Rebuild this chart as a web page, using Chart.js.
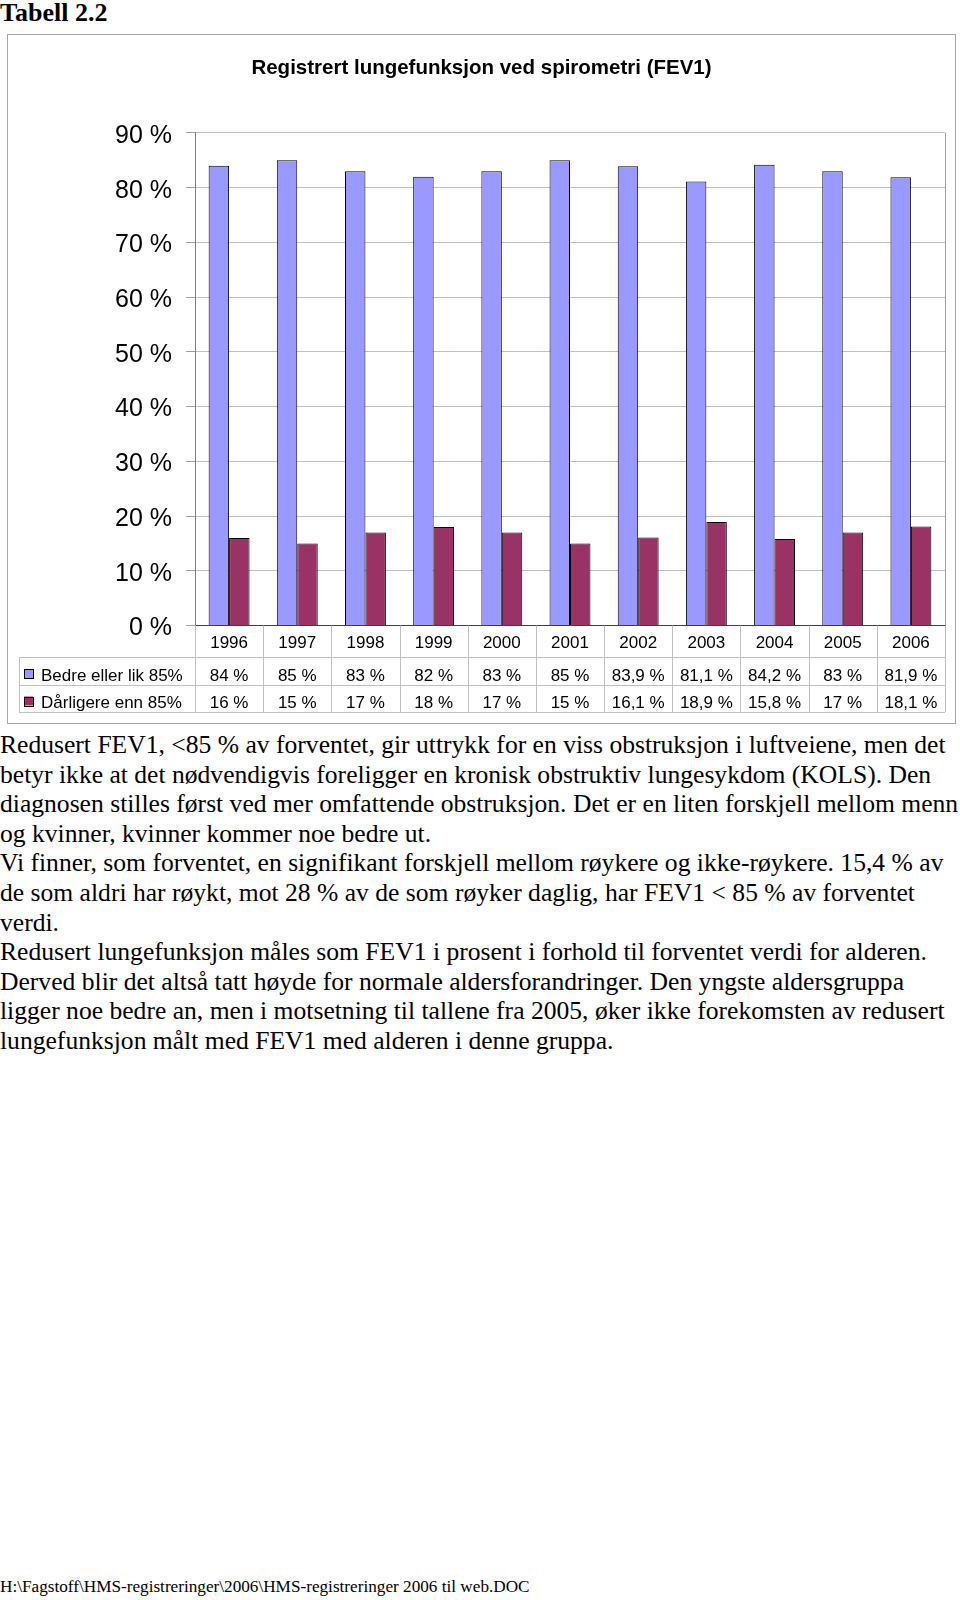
<!DOCTYPE html>
<html lang="no">
<head>
<meta charset="UTF-8">
<title>Tabell 2.2</title>
<script src="https://cdn.jsdelivr.net/npm/chart.js"></script>
<style>
  html, body { margin: 0; padding: 0; background: #fff; }
  body { position: relative; width: 960px; height: 1600px; overflow: hidden; color: #000; }
  #tabell { position: absolute; left: 0; top: 0; font: bold 26px/25px "Liberation Serif", "Times New Roman", serif; }
  #frame { position: absolute; left: 7px; top: 34px; width: 947px; height: 688px; border: 1px solid #a6a6a6; }
  #chart { display: block; }
  #text { position: absolute; left: 0; top: 730px; font: 25.6px/29.6px "Liberation Serif", "Times New Roman", serif; }
  #text div { white-space: nowrap; }
  #footer { position: absolute; left: 0; top: 1577px; font: 17.2px/20px "Liberation Serif", "Times New Roman", serif; white-space: nowrap; }
</style>
</head>
<body>
<div id="tabell">Tabell 2.2</div>
<div id="frame"><canvas id="chart" width="947" height="688"></canvas></div>
<div id="text">
  <div>Redusert FEV1, &lt;85 % av forventet, gir uttrykk for en viss obstruksjon i luftveiene, men det</div>
  <div>betyr ikke at det nødvendigvis foreligger en kronisk obstruktiv lungesykdom (KOLS). Den</div>
  <div>diagnosen stilles først ved mer omfattende obstruksjon. Det er en liten forskjell mellom menn</div>
  <div>og kvinner, kvinner kommer noe bedre ut.</div>
  <div>Vi finner, som forventet, en signifikant forskjell mellom røykere og ikke-røykere. 15,4 % av</div>
  <div>de som aldri har røykt, mot 28 % av de som røyker daglig, har FEV1 &lt; 85 % av forventet</div>
  <div>verdi.</div>
  <div>Redusert lungefunksjon måles som FEV1 i prosent i forhold til forventet verdi for alderen.</div>
  <div>Derved blir det altså tatt høyde for normale aldersforandringer. Den yngste aldersgruppa</div>
  <div>ligger noe bedre an, men i motsetning til tallene fra 2005, øker ikke forekomsten av redusert</div>
  <div>lungefunksjon målt med FEV1 med alderen i denne gruppa.</div>
</div>
<div id="footer">H:\Fagstoff\HMS-registreringer\2006\HMS-registreringer 2006 til web.DOC</div>
<script>
const years = ['1996', '1997', '1998', '1999', '2000', '2001', '2002', '2003', '2004', '2005', '2006'];
const bedre = [84, 85, 83, 82, 83, 85, 83.9, 81.1, 84.2, 83, 81.9];
const darligere = [16, 15, 17, 18, 17, 15, 16.1, 18.9, 15.8, 17, 18.1];
const yTicks = [0, 10, 20, 30, 40, 50, 60, 70, 80, 90];

const fontSans = '"Liberation Sans", Arial, sans-serif';
const lineGray = '#c0c0c0';

function pct(v) {
  const s = Number.isInteger(v) ? String(v) : v.toFixed(1).replace('.', ',');
  return s + ' %';
}

// data table under the x axis (legend keys + values), like the Excel chart
const dataTable = {
  id: 'dataTable',
  afterDraw(chart) {
    const { ctx, chartArea } = chart;
    const x = chart.scales.x;
    const step = x.getPixelForValue(1) - x.getPixelForValue(0);
    const top = chartArea.bottom;
    const row1 = top + 31.5, row2 = row1 + 27.5, end = row2 + 27.5;
    const tableLeft = 11;

    ctx.save();
    ctx.strokeStyle = lineGray;
    ctx.lineWidth = 1;
    ctx.beginPath();
    [row1, row2, end].forEach(y => {
      ctx.moveTo(tableLeft, Math.round(y) + 0.5);
      ctx.lineTo(chartArea.right, Math.round(y) + 0.5);
    });
    ctx.moveTo(tableLeft + 0.5, row1);
    ctx.lineTo(tableLeft + 0.5, end);
    for (let i = 0; i <= years.length; i++) {
      const bx = Math.round(x.getPixelForValue(i) - step / 2) + 0.5;
      ctx.moveTo(bx, top);
      ctx.lineTo(bx, end);
    }
    ctx.stroke();

    // right border of plot area
    ctx.strokeStyle = '#a0a0a0';
    ctx.beginPath();
    ctx.moveTo(Math.round(chartArea.right) + 0.5, chartArea.top);
    ctx.lineTo(Math.round(chartArea.right) + 0.5, chartArea.bottom);
    ctx.stroke();

    ctx.font = '17px ' + fontSans;
    ctx.textBaseline = 'alphabetic';
    [row1, row2].forEach((rowTop, di) => {
      const ds = chart.data.datasets[di];
      ctx.fillStyle = ds.backgroundColor;
      ctx.fillRect(16, rowTop + 12, 9, 9);
      ctx.strokeStyle = '#000';
      ctx.strokeRect(16.5, Math.round(rowTop + 12) + 0.5, 9, 9);
      ctx.fillStyle = '#000';
      ctx.textAlign = 'left';
      ctx.fillText(ds.label, 33, rowTop + 23.5);
      ctx.textAlign = 'center';
      ds.data.forEach((v, i) => {
        ctx.fillText(pct(v), x.getPixelForValue(i), rowTop + 23.5);
      });
    });
    ctx.restore();
  }
};

new Chart(document.getElementById('chart'), {
  type: 'bar',
  data: {
    labels: years,
    datasets: [{
      label: 'Bedre eller lik 85%',
      data: bedre,
      backgroundColor: '#9999ff',
      borderColor: '#000',
      borderWidth: 1,
      categoryPercentage: 0.6,
      barPercentage: 1.0
    }, {
      label: 'Dårligere enn 85%',
      data: darligere,
      backgroundColor: '#993366',
      borderColor: '#000',
      borderWidth: 1,
      categoryPercentage: 0.6,
      barPercentage: 1.0
    }]
  },
  options: {
    responsive: false,
    animation: false,
    devicePixelRatio: 1,
    layout: { padding: 0 },
    plugins: {
      legend: { display: false },
      tooltip: { enabled: false },
      title: {
        display: true,
        text: 'Registrert lungefunksjon ved spirometri (FEV1)',
        color: '#000',
        font: { family: fontSans, size: 20.5, weight: 'bold' },
        padding: { top: 21, bottom: 52.3 }
      }
    },
    scales: {
      x: {
        offset: true,
        grid: { display: false },
        border: { display: true, color: '#404040' },
        ticks: { color: '#000', font: { family: fontSans, size: 17 }, padding: 0, maxRotation: 0 },
        afterFit: (scale) => { scale.height = 97.5; }
      },
      y: {
        min: 0,
        max: 90,
        afterBuildTicks: (scale) => { scale.ticks = yTicks.map(v => ({ value: v })); },
        grid: { color: lineGray, tickLength: 9, tickColor: '#a0a0a0' },
        border: { color: '#808080' },
        ticks: {
          color: '#000',
          font: { family: fontSans, size: 25 },
          padding: 14,
          labelOffset: 3,
          callback: (v) => v + ' %'
        },
        afterFit: (scale) => { scale.width = 187; }
      },
      // empty right axis, only keeps a small margin right of the plot area
      yRight: {
        position: 'right',
        min: 0,
        max: 90,
        grid: { display: false },
        border: { display: false },
        ticks: { display: false },
        afterFit: (scale) => { scale.width = 10; }
      }
    }
  },
  plugins: [dataTable]
});
</script>
</body>
</html>
